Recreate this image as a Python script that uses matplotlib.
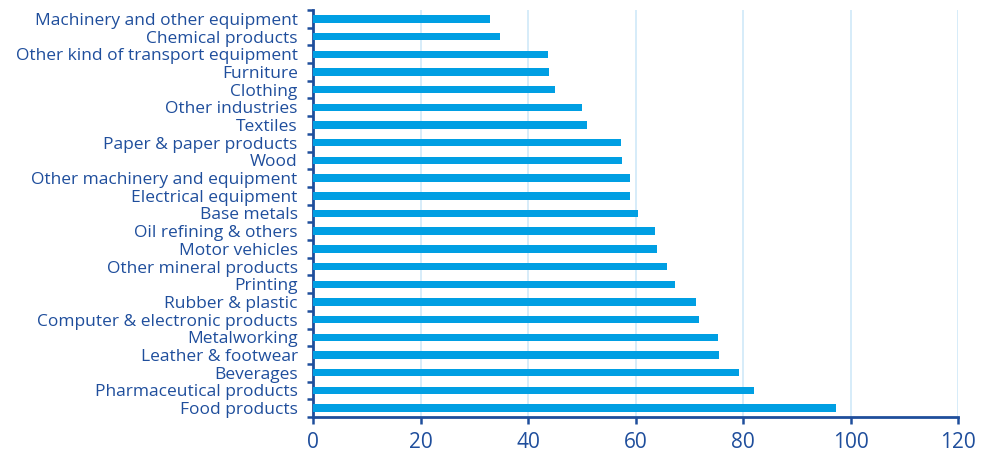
import numpy as np
import matplotlib.pyplot as plt

plt.rcParams['font.family'] = ['Open Sans', 'DejaVu Sans']

categories = ['Machinery and other equipment', 'Chemical products',
              'Other kind of transport equipment', 'Furniture', 'Clothing',
              'Other industries', 'Textiles', 'Paper & paper products', 'Wood',
              'Other machinery and equipment', 'Electrical equipment',
              'Base metals', 'Oil refining & others', 'Motor vehicles',
              'Other mineral products', 'Printing', 'Rubber & plastic',
              'Computer & electronic products', 'Metalworking',
              'Leather & footwear', 'Beverages', 'Pharmaceutical products',
              'Food products']
values = [32.9, 34.8, 43.8, 43.9, 45.0, 50.0, 50.9, 57.3, 57.5, 58.9, 58.9,
          60.4, 63.6, 64.0, 65.9, 67.3, 71.3, 71.9, 75.4, 75.6, 79.3, 82.1,
          97.3]
xticks = [0, 20, 40, 60, 80, 100, 120]

navy = '#1f4e9c'
bar_col = '#009fe3'
grid_col = '#cfe9f8'

fig = plt.figure(figsize=(9.83, 4.53), dpi=100)
ax = fig.add_axes([313/983, 36/453, 645/983, 407/453])

y = np.arange(len(categories))
ax.barh(y, values, height=0.42, color=bar_col, zorder=3)

ax.set_xlim(0, 120)
ax.set_ylim(len(categories) - 0.5, -0.5)
ax.set_xticks(xticks)
ax.set_yticks(y)
ax.set_yticklabels(categories)
ax.set_yticks(np.arange(-0.5, len(categories)), minor=True)

ax.grid(axis='x', color=grid_col, linewidth=1.2, zorder=0)
for s in ['top', 'right']:
    ax.spines[s].set_visible(False)
for s in ['left', 'bottom']:
    ax.spines[s].set_color(navy)
    ax.spines[s].set_linewidth(2)

ax.tick_params(axis='y', which='major', length=0, pad=11, labelsize=12.5,
               labelcolor=navy)
ax.tick_params(axis='y', which='minor', length=4, width=1.8, color=navy)
ax.tick_params(axis='x', which='major', length=5, width=1.8, color=navy,
               labelsize=15, labelcolor=navy, pad=6)

fig.savefig('out.png', dpi=100)
